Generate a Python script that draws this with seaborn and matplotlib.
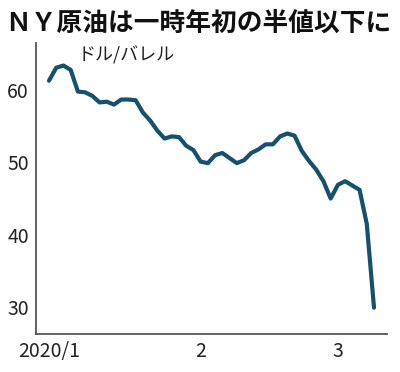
import pandas as pd
import matplotlib.pyplot as plt
import seaborn as sns

# NY原油 (WTI) 終値, 2020年1月2日〜3月9日 (取引日)
fechas = ["01-02", "01-03", "01-06", "01-07", "01-08", "01-09", "01-10",
          "01-13", "01-14", "01-15", "01-16", "01-17", "01-21", "01-22",
          "01-23", "01-24", "01-27", "01-28", "01-29", "01-30", "01-31",
          "02-03", "02-04", "02-05", "02-06", "02-07", "02-10", "02-11",
          "02-12", "02-13", "02-14", "02-18", "02-19", "02-20", "02-21",
          "02-24", "02-25", "02-26", "02-27", "02-28",
          "03-02", "03-03", "03-04", "03-05", "03-06", "03-09"]
precios = [61.3, 63.1, 63.4, 62.8, 59.8, 59.7, 59.2,
           58.3, 58.4, 58.0, 58.7, 58.7, 58.6, 56.9,
           55.8, 54.4, 53.3, 53.6, 53.5, 52.3, 51.7,
           50.1, 49.9, 51.0, 51.3, 50.6, 49.9, 50.3,
           51.3, 51.8, 52.5, 52.5, 53.6, 54.0, 53.7,
           51.6, 50.2, 49.0, 47.4, 45.0,
           46.9, 47.4, 46.8, 46.2, 41.5, 29.9]
meses = ["01-02", "02-03", "03-02"]
etiquetas_x = ["2020/1", "2", "3"]
ticks_y = [30, 40, 50, 60]

datos = pd.DataFrame({"fecha": fechas, "precio": precios})
datos["dia"] = range(len(datos))
pos_meses = [fechas.index(m) for m in meses]

sns.set_style("white")
plt.rcParams['font.family'] = ['Noto Sans CJK JP', 'DejaVu Sans']

fig = plt.figure(figsize=(4, 3.72), dpi=100)
ax = fig.add_axes([0.09, 0.102, 0.8775, 0.782])

sns.lineplot(data=datos, x="dia", y="precio", ax=ax, color="#15506e",
             linewidth=3.0, solid_capstyle="round", solid_joinstyle="round")

ax.set_xlim(-1.8, 46.8)
ax.set_ylim(26.25, 66.5)
ax.set_xticks(pos_meses)
ax.set_xticklabels(etiquetas_x)
ax.set_yticks(ticks_y)
ax.set_xlabel("")
ax.set_ylabel("")

for lado in ["top", "right"]:
    ax.spines[lado].set_visible(False)
for lado in ["left", "bottom"]:
    ax.spines[lado].set_color("#555555")
    ax.spines[lado].set_linewidth(1.3)

ax.tick_params(direction="in", length=4, width=1, color="#555555",
               labelsize=14, labelcolor="#222222", pad=5)
for t in ax.get_xticklabels() + ax.get_yticklabels():
    t.set_family(['Liberation Sans Narrow', 'Noto Sans CJK JP', 'DejaVu Sans'])

ax.text(0.118, 0.99, "ドル/バレル", transform=ax.transAxes, fontsize=13,
        color="#222222", va="top", ha="left")

fig.text(0.012, 0.975, "ＮＹ原油は一時年初の半値以下に", fontsize=18.5,
         fontweight="bold", color="#111111", va="top", ha="left")

plt.savefig("out.png", dpi=100)
plt.close()
